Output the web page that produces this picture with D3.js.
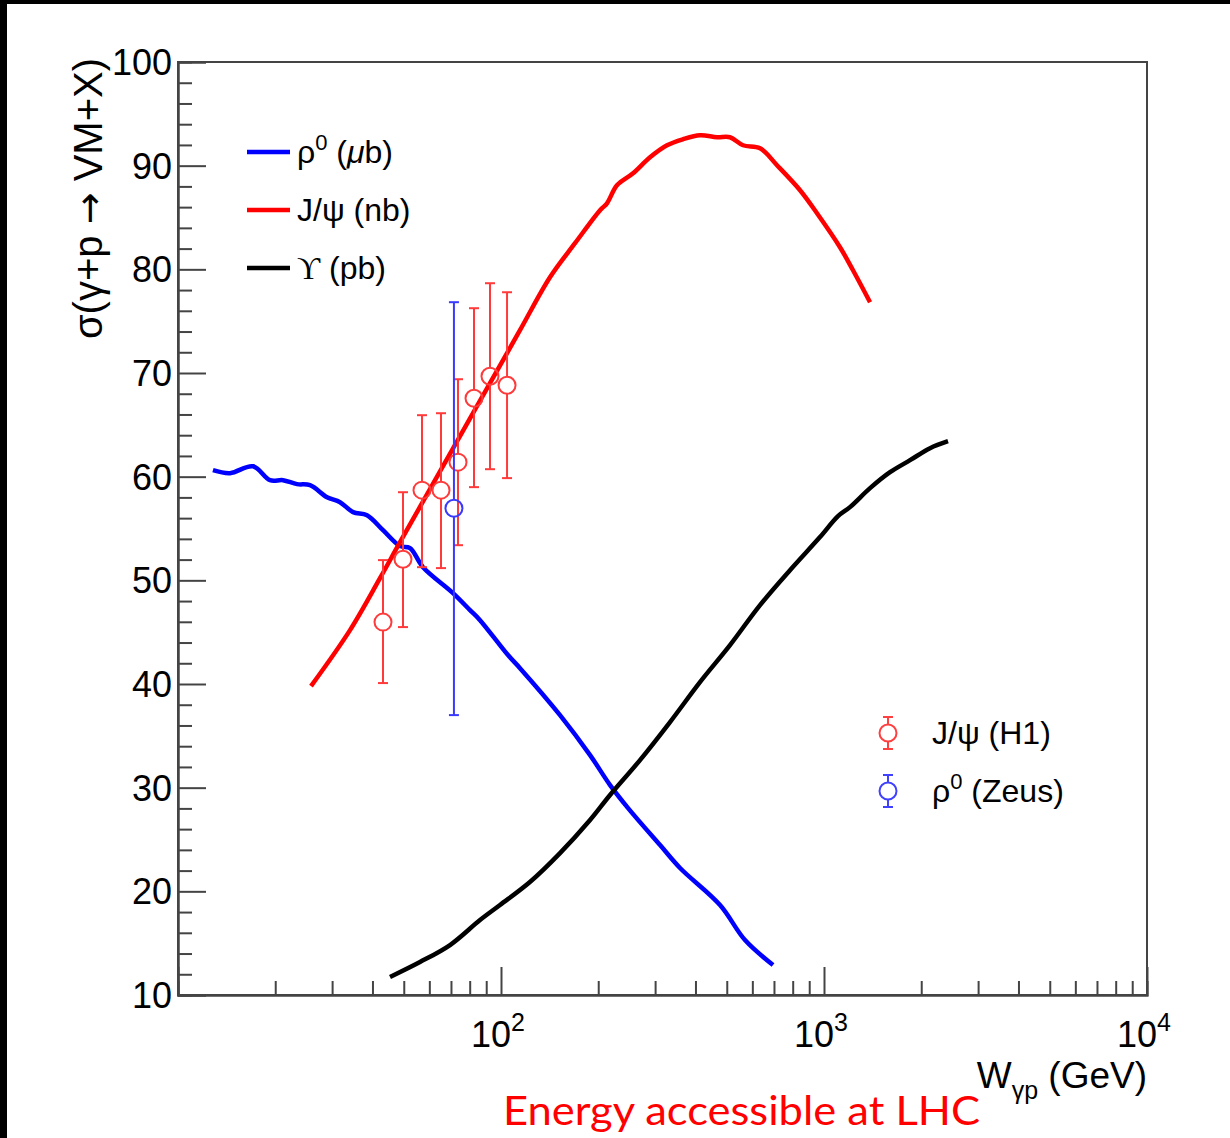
<!DOCTYPE html>
<html><head><meta charset="utf-8">
<script src="https://cdn.jsdelivr.net/npm/d3@7"></script>
<style>
html,body{margin:0;padding:0;background:#fff;}
svg{display:block;}
text{font-family:"Liberation Sans",Arial,Helvetica,sans-serif;fill:#000;}
</style></head>
<body><svg id="c" width="1230" height="1138"></svg>
<script>
// ---- data ----
const rhoW  = [12.83,14.49,17.07,19.27,21.14,23.36,25.63,28.93,31.74,34.83,38.47,43.12,48.68,52.27,57.35,71.03,80.17,86.1,105.1,114.5,152.3,188.7,217.6,247.4,310.8,358.3,476.5,569.4,695.3];
const rhoXS = [60.63,60.34,61.0,59.66,59.66,59.28,59.18,58.02,57.54,56.58,56.28,54.84,53.30,53.11,51.27,48.77,47.13,46.16,42.79,41.53,37.0,33.14,30.25,28.03,24.46,22.25,18.68,15.30,12.89];
const jpsiW  = [25.81,34.09,42.21,48.68,60.28,74.66,92.45,114.5,141.8,169.5,202.6,212.9,228.6,256.4,289.3,326.6,366.0,413.1,466.4,511.7,561.4,633.8,715.3,843.0,951.3,1120.8,1229.6,1388.5];
const jpsiXS = [39.80,45.20,50.21,53.68,58.79,63.91,69.02,74.13,79.24,82.52,85.70,86.37,88.11,89.27,90.81,91.97,92.55,92.93,92.74,92.74,91.97,91.68,90.04,87.63,85.41,82.13,79.91,76.83];
const upsW  = [45.33,56.13,69.53,86.1,99.29,122.9,152.3,188.7,217.6,269.4,333.7,413.1,511.7,633.8,784.8,971.9,1104.9,1203.6,1388.5,1601.1,1846.8,2129.6,2420.8];
const upsXS = [11.74,13.18,14.82,17.23,18.68,20.90,23.69,26.88,29.29,32.66,36.33,40.18,43.75,47.61,50.98,54.17,56.19,57.06,58.89,60.43,61.59,62.75,63.42];
const h1W   = [43.12,49.72,56.94,65.2,73.6,82.5,92.45,104.4];
const h1XS  = [45.97,52.04,58.70,58.70,61.40,67.57,69.69,68.82];
const h1Hi  = [51.95,58.50,65.93,66.12,69.40,76.25,78.66,77.79];
const h1Lo  = [40.09,45.49,51.27,51.18,53.39,58.99,60.72,59.86];
const zeusW  = [71.5];
const zeusXS = [56.96];
const zeusHi = [76.83];
const zeusLo = [37.0];
const yTicks = [10,20,30,40,50,60,70,80,90,100];
const xMajor = [100,1000,10000];
const xMajorExp = ["2","3","4"];
const lineLegend = [
  {color:"#0000ff", name:"ρ", sup:"0", unit:" (", mu:"μ", rest:"b)", serif:false},
  {color:"#ff0000", name:"J/ψ", sup:"", unit:" (nb)", mu:"", rest:"", serif:false},
  {color:"#000000", name:"ϒ", sup:"", unit:" (pb)", mu:"", rest:"", serif:true}
];
const pointLegend = [
  {color:"#ff4040", name:"J/ψ", sup:"", rest:" (H1)"},
  {color:"#4040ff", name:"ρ", sup:"0", rest:" (Zeus)"}
];

// ---- layout ----
const L=178, R=1147, T=62, B=995;
const svg = d3.select("#c");
const x = d3.scaleLog().domain([10,10000]).range([L,R]);
const y = d3.scaleLinear().domain([10,100]).range([B,T]);

// black image border (top & left)
svg.append("rect").attr("x",0).attr("y",0).attr("width",1230).attr("height",4).attr("fill","#000");
svg.append("rect").attr("x",0).attr("y",0).attr("width",7).attr("height",1138).attr("fill","#000");

// frame
svg.append("rect").attr("x",L).attr("y",T).attr("width",R-L).attr("height",B-T)
  .attr("fill","none").attr("stroke","#444").attr("stroke-width",2);

// x ticks
const xMinor = [];
[10,100,1000].forEach(d=>{for(let k=2;k<=9;k++) xMinor.push(d*k);});
const axX1 = svg.append("g").attr("transform",`translate(0,${B})`)
  .call(d3.axisTop(x).tickValues(xMinor).tickSize(14).tickFormat(""));
const axX2 = svg.append("g").attr("transform",`translate(0,${B})`)
  .call(d3.axisTop(x).tickValues(xMajor.slice(0,2)).tickSize(28).tickFormat(""));
// y ticks
const yMinor = d3.range(10,100.1,2).filter(v=>v%10!==0);
const axY1 = svg.append("g").attr("transform",`translate(${L},0)`)
  .call(d3.axisRight(y).tickValues(yMinor).tickSize(14).tickFormat(""));
const axY2 = svg.append("g").attr("transform",`translate(${L},0)`)
  .call(d3.axisRight(y).tickValues(yTicks).tickSize(28).tickFormat(""));
[axX1,axX2,axY1,axY2].forEach(g=>{
  g.select(".domain").attr("stroke","#444").attr("stroke-width",2);
  g.selectAll(".tick line").attr("stroke","#444").attr("stroke-width",2);
});

// y tick labels
svg.append("g").selectAll("text").data(yTicks).join("text")
  .attr("x",172).attr("y",d=>y(d)+13).attr("text-anchor","end")
  .attr("font-size",36).text(d=>d);

// x tick labels with superscripts
const xl = svg.append("g").selectAll("text").data(xMajor).join("text")
  .attr("x",d=>x(d)-3).attr("y",1047).attr("text-anchor","middle").attr("font-size",36);
xl.append("tspan").text("10");
xl.append("tspan").attr("dy",-16).attr("font-size",25).text((d,i)=>xMajorExp[i]);

// axis titles
const xt = svg.append("text").attr("x",R).attr("y",1088).attr("text-anchor","end").attr("font-size",37);
xt.append("tspan").text("W");
xt.append("tspan").attr("dy",11).attr("font-size",25).text("γp");
xt.append("tspan").attr("dy",-11).text(" (GeV)");

const yt = svg.append("text").attr("transform","translate(102,58) rotate(-90)")
  .attr("text-anchor","end").attr("font-size",40);
yt.append("tspan").text("σ(γ+p ");
yt.append("tspan").style("font-family","'DejaVu Sans'").attr("font-size",38).text("→");
yt.append("tspan").text(" VM+X)");

// curves
const line = d3.line().x(d=>x(d[0])).y(d=>y(d[1])).curve(d3.curveCatmullRom.alpha(0.5));
const curves = [
  {W:rhoW, v:rhoXS, c:"#0000ff"},
  {W:jpsiW, v:jpsiXS, c:"#ff0000"},
  {W:upsW, v:upsXS, c:"#000000"}
];
curves.forEach(cv=>{
  svg.append("path").datum(cv.W.map((w,i)=>[w,cv.v[i]]))
    .attr("d",line).attr("fill","none").attr("stroke",cv.c)
    .attr("stroke-width",4.5).attr("stroke-linejoin","round");
});

// data points
function drawPoints(Ws, vs, hi, lo, col){
  const g = svg.append("g").attr("stroke",col).attr("stroke-width",2).attr("fill","none");
  Ws.forEach((w,i)=>{
    const cx=x(w), cy=y(vs[i]), yt=y(hi[i]), yb=y(lo[i]), r=8.5;
    g.append("line").attr("x1",cx).attr("x2",cx).attr("y1",yt).attr("y2",cy-r);
    g.append("line").attr("x1",cx).attr("x2",cx).attr("y1",cy+r).attr("y2",yb);
    g.append("line").attr("x1",cx-5).attr("x2",cx+5).attr("y1",yt).attr("y2",yt);
    g.append("line").attr("x1",cx-5).attr("x2",cx+5).attr("y1",yb).attr("y2",yb);
    g.append("circle").attr("cx",cx).attr("cy",cy).attr("r",r).attr("fill","none");
  });
}
drawPoints(h1W,h1XS,h1Hi,h1Lo,"#ff3a3a");
drawPoints(zeusW,zeusXS,zeusHi,zeusLo,"#3a3aff");

// line legend
lineLegend.forEach((d,i)=>{
  const yy = 152 + i*58;
  svg.append("line").attr("x1",247).attr("x2",290).attr("y1",yy).attr("y2",yy)
    .attr("stroke",d.color).attr("stroke-width",4.5);
  const t = svg.append("text").attr("x",297).attr("y",yy+11).attr("font-size",32);
  const n = t.append("tspan").text(d.name);
  if(d.serif) n.style("font-family","'Liberation Serif','DejaVu Serif',serif");
  if(d.sup){ t.append("tspan").attr("dy",-13).attr("font-size",22).text(d.sup);
             t.append("tspan").attr("dy",13).text(d.unit); }
  else t.append("tspan").text(d.unit);
  if(d.mu){ t.append("tspan").attr("font-style","italic").text(d.mu); t.append("tspan").text(d.rest); }
});

// point legend
pointLegend.forEach((d,i)=>{
  const yy = 733 + i*58, cx=888, r=8.5;
  const g = svg.append("g").attr("stroke",d.color).attr("stroke-width",2).attr("fill","none");
  g.append("line").attr("x1",cx).attr("x2",cx).attr("y1",yy-16).attr("y2",yy-r);
  g.append("line").attr("x1",cx).attr("x2",cx).attr("y1",yy+r).attr("y2",yy+16);
  g.append("line").attr("x1",cx-5).attr("x2",cx+5).attr("y1",yy-16).attr("y2",yy-16);
  g.append("line").attr("x1",cx-5).attr("x2",cx+5).attr("y1",yy+16).attr("y2",yy+16);
  g.append("circle").attr("cx",cx).attr("cy",yy).attr("r",r);
  const t = svg.append("text").attr("x",932).attr("y",yy+11).attr("font-size",32);
  t.append("tspan").text(d.name);
  if(d.sup){ t.append("tspan").attr("dy",-13).attr("font-size",22).text(d.sup);
             t.append("tspan").attr("dy",13).text(d.rest); }
  else t.append("tspan").text(d.rest);
});

// annotation
svg.append("text").attr("x",503).attr("y",1125).attr("font-size",40)
  .attr("textLength",477).attr("lengthAdjust","spacingAndGlyphs")
  .style("font-family","Lato,'Open Sans',sans-serif").style("fill","#ff0000")
  .text("Energy accessible at LHC");
</script></body></html>
